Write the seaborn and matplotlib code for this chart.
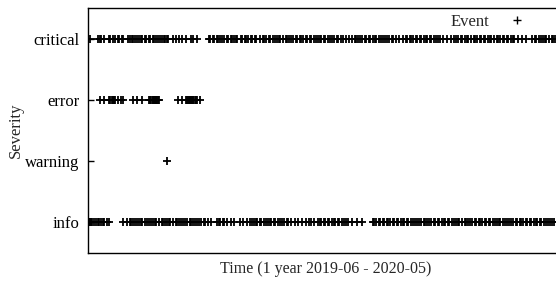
import pandas as pd
import seaborn as sns
import matplotlib.pyplot as plt
from matplotlib.lines import Line2D

# event times, in days since 2019-06-01
severities = ["critical", "error", "warning", "info"]

critical_days = [
    1, 7, 9, 10, 12, 16, 17, 19, 21, 23, 24, 26, 27, 31, 32, 34,
    35, 36, 38, 39, 41, 42, 44, 45, 47, 48, 50, 51, 53, 54, 56, 57, 59, 60, 61,
    62, 66, 68, 71, 73, 76, 80, 82, 85,
    94, 95, 97, 98, 100, 101, 103, 104, 106, 108, 109, 111, 112, 114, 115, 116,
    119, 120, 122, 123, 125, 127, 128, 130, 131,
    134, 136, 137, 139, 141, 142, 144, 146, 147, 149, 150,
    152, 154, 155, 157, 158, 160, 162, 163, 165, 166, 168, 170, 171, 173, 174, 176, 178, 179, 181,
    182, 184, 185, 187, 189, 190, 192, 194, 195, 197, 199,
    201, 204, 206,
    208, 209, 211, 212, 214, 216, 217, 219, 220, 222, 224, 225, 227, 229, 230, 232, 233, 235, 237, 238, 240,
    243, 246, 248, 249, 251,
    252, 254, 256, 257, 259, 260, 262, 264, 265, 267, 268, 270, 272, 273, 275, 277,
    280, 283, 286, 287,
    289, 291, 292, 294, 296, 297, 299,
    301, 302, 304, 306, 307, 309, 310, 312, 314, 315, 317, 319, 320,
    322, 324, 325, 327, 328, 330, 332, 333, 336, 339, 342,
    347, 349, 350, 352, 354, 355, 357, 358, 360, 362, 363, 365,
]

error_days = [
    9, 12, 16, 17, 18, 19, 20, 21, 23, 25, 27,
    35, 38, 42, 47, 48, 49, 50, 50.5, 51, 51.5, 52, 52.5, 53, 53.5, 54, 55,
    70, 73, 76, 77, 78, 78.5, 79, 79.5, 80, 80.5, 81, 81.5, 82, 83, 84, 85, 87,
]

warning_days = [61]

info_days = [
    0, 1, 2, 3, 4, 6, 7, 8, 10, 11, 12, 14, 16,
    27, 30,
    32, 33, 35, 36, 38, 39, 41, 42, 44, 46, 47, 49, 50, 52, 53, 55, 57, 58, 60, 61,
    63, 64, 66, 68, 69, 71, 72, 74, 75, 77, 79, 80, 82, 83, 85, 86, 88, 90, 91, 93,
    96, 100,
    102, 103, 105, 106, 108,
    111, 114, 118, 121, 124,
    126, 128, 129, 131, 132, 134, 135, 137, 139, 140, 142, 143, 145, 146, 148, 150, 151,
    153, 155, 156, 158, 161, 164, 167, 170, 172, 174, 176, 179, 181,
    182, 184, 185, 187, 188, 190, 192, 193, 195, 196, 198, 200, 201, 203,
    206, 210, 214,
    222, 223, 225, 227, 228, 230, 231, 233, 234, 236, 238, 239, 241, 242, 244, 246, 247,
    249, 250, 252, 254, 255, 257, 258, 260, 262, 263, 265, 266, 268, 270, 271, 273, 274,
    276, 278, 279, 281, 282, 284, 286, 287, 289, 290, 292, 294, 295, 297, 298, 300, 302,
    303, 305, 306, 308, 310, 311, 313, 314, 316, 318, 319, 321, 322, 324, 326, 327, 329,
    330, 332, 334, 335, 337, 338, 340, 342, 343, 345, 346, 348, 350, 351, 353, 354, 356,
    358, 359, 361, 362, 364,
]


def build_df():
    rows = []
    for sev, days in zip(severities, [critical_days, error_days, warning_days, info_days]):
        for d in days:
            rows.append({"day": d, "severity": sev})
    df = pd.DataFrame(rows)
    df["level"] = df["severity"].map({s: i for i, s in enumerate(severities)})
    return df


def main():
    sns.set_theme(style="ticks")
    plt.rcParams["font.family"] = ["Liberation Serif", "DejaVu Serif"]
    plt.rcParams["font.size"] = 12

    df = build_df()

    fig = plt.figure(figsize=(5.56, 2.81), dpi=100)
    ax = fig.add_axes([88 / 556, 0.10, 1 - 88 / 556, 0.87])

    sns.scatterplot(data=df, x="day", y="level", marker="+", color="black",
                    s=36, linewidth=1.3, ax=ax, legend=False)

    ax.set_xlim(-0.5, 365.5)
    ax.set_ylim(3.5, -0.5)
    ax.set_yticks(range(len(severities)))
    ax.set_yticklabels(severities, fontsize=12)
    ax.set_xticks([])
    ax.tick_params(axis="y", direction="in", length=4, width=1, pad=6, colors="black")
    ax.set_xlabel("Time (1 year 2019-06 - 2020-05)", fontsize=11.5, labelpad=5)
    ax.xaxis.set_label_coords(0.508, -0.035, transform=ax.transAxes)
    ax.xaxis.label.set_va("top")
    ax.set_ylabel("Severity", fontsize=12, labelpad=1)

    for side in ["left", "top", "bottom"]:
        ax.spines[side].set_color("black")
        ax.spines[side].set_linewidth(1)
    ax.spines["right"].set_visible(False)

    handle = Line2D([], [], marker="+", color="black", linestyle="none",
                    markersize=6, markeredgewidth=1)
    ax.legend([handle], ["Event"], loc="upper right", bbox_to_anchor=(0.975, 1.04),
              frameon=False, markerfirst=False, fontsize=12, handletextpad=0.9,
              handlelength=1.5)

    fig.savefig("out.png", dpi=100)


if __name__ == "__main__":
    main()
